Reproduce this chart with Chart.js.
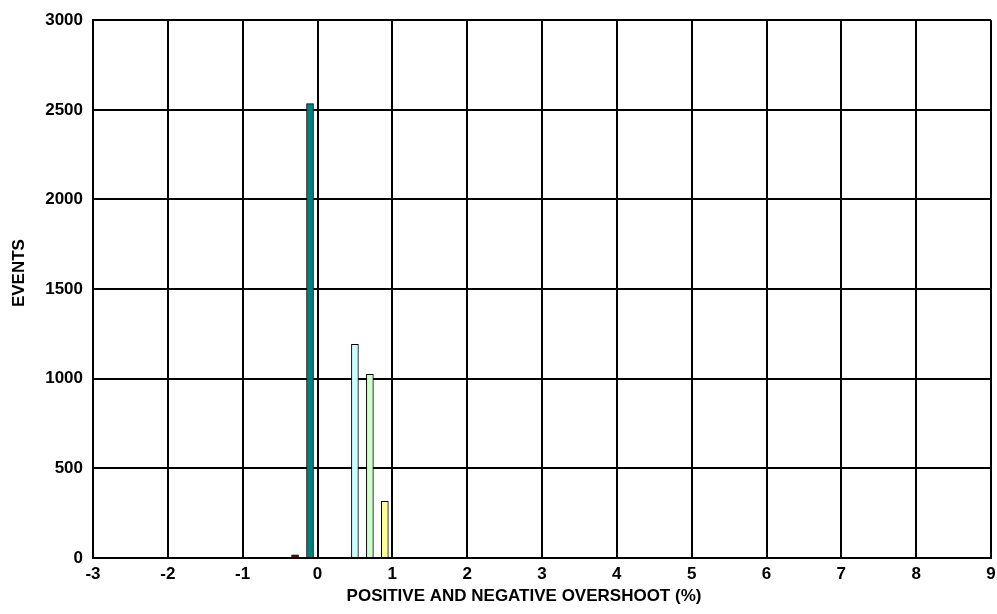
<!DOCTYPE html>
<html>
<head>
<meta charset="utf-8">
<script src="https://cdn.jsdelivr.net/npm/chart.js@4/dist/chart.umd.min.js"></script>
<style>
  html, body { margin: 0; padding: 0; background: #fff; }
  #wrap { width: 997px; height: 614px; }
</style>
</head>
<body>
<div id="wrap"><canvas id="myChart" width="997" height="614"></canvas></div>
<script>
// overshoot bins (%) and event counts
var overshoot = [-0.3, -0.1, 0.5, 0.7, 0.9];
var events = [18, 2535, 1192, 1024, 316];
var barColors = ['#800000', '#008080', '#CCFFFF', '#CCFFCC', '#FFFF99'];

var xTicks = [-3, -2, -1, 0, 1, 2, 3, 4, 5, 6, 7, 8, 9];
var yTicks = [0, 500, 1000, 1500, 2000, 2500, 3000];

var xTitle = 'POSITIVE AND NEGATIVE OVERSHOOT (%)';
var yTitle = 'EVENTS';

var boldFont = { family: 'Liberation Sans, Arial, sans-serif', size: 17, weight: 'bold' };

// axis titles sit a little off the plot centre, like the excel original
var axisTitles = {
	id: 'axisTitles',
	afterDraw: function(chart) {
		var c = chart.ctx, a = chart.chartArea;
		c.save();
		c.fillStyle = '#000';
		c.font = 'bold 17px Liberation Sans, Arial, sans-serif';
		c.textAlign = 'center';
		c.textBaseline = 'middle';
		c.fillText(xTitle, (a.left + a.right) / 2 - 18, chart.height - 18);
		c.translate(19, (a.top + a.bottom) / 2 - 16);
		c.rotate(-Math.PI / 2);
		c.fillText(yTitle, 0, 0);
		c.restore();
	}
};

var ctx = document.getElementById('myChart').getContext('2d');
var myChart = new Chart(ctx, {
	type: 'bar',
	data: {
		datasets: [{
			label: 'Events',
			data: overshoot.map(function(x, i) { return { x: x, y: events[i] }; }),
			backgroundColor: barColors,
			borderColor: '#000',
			borderWidth: 1,
			barThickness: 7
		}]
	},
	options: {
		responsive: false,
		animation: false,
		layout: { padding: { top: 20, right: 6, left: 0, bottom: 0 } },
		plugins: {
			legend: { display: false },
			tooltip: { enabled: false }
		},
		scales: {
			x: {
				type: 'linear',
				offset: false,
				min: xTicks[0],
				max: xTicks[xTicks.length - 1],
				z: 1,
				afterBuildTicks: function(scale) {
					scale.ticks = xTicks.map(function(v) { return { value: v }; });
				},
				afterFit: function(scale) {
					scale.height = 56;
					scale.paddingLeft = 0;
					scale.paddingRight = 0;
				},
				grid: { color: '#000', lineWidth: 2, drawTicks: false, offset: false },
				border: { color: '#000', width: 2 },
				ticks: {
					color: '#000', font: boldFont, padding: 6, maxRotation: 0,
					callback: function(v) { return String(v); }
				}
			},
			y: {
				min: yTicks[0],
				max: yTicks[yTicks.length - 1],
				z: 1,
				afterBuildTicks: function(scale) {
					scale.ticks = yTicks.map(function(v) { return { value: v }; });
				},
				afterFit: function(scale) { scale.width = 93; },
				grid: { color: '#000', lineWidth: 2, drawTicks: false },
				border: { color: '#000', width: 2 },
				ticks: {
					color: '#000', font: boldFont, padding: 10,
					callback: function(v) { return String(v); }
				}
			}
		}
	},
	plugins: [axisTitles]
});
</script>
</body>
</html>
